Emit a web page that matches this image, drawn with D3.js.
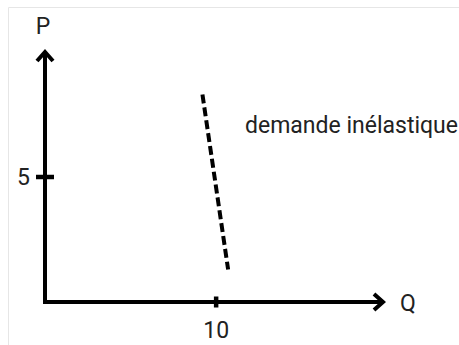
<!DOCTYPE html>
<html>
<head>
<meta charset="utf-8">
<script src="https://cdn.jsdelivr.net/npm/d3@7"></script>
<style>
  html, body { margin: 0; padding: 0; background: #fff; }
  svg { display: block; }
  text { font-family: Roboto, "Noto Sans", sans-serif; fill: #222; }
</style>
</head>
<body>
<div id="chart"></div>
<script>
// ---- data ----
const xDomain = [0, 19.75];
const yDomain = [0, 10];
const xTicks = [10];
const xTickLabels = ["10"];
const yTicks = [5];
const yTickLabels = ["5"];
const demandQ = [9.2, 10.7];
const demandP = [8.3, 1.3];
const axisLabels = ["Q", "P"];
const annotation = "demande inélastique";

// ---- drawing ----
const W = 459, H = 345;
const FS = 23;
const svg = d3.select("#chart").append("svg").attr("width", W).attr("height", H);

// faint frame
svg.append("path")
  .attr("d", "M8.5,345 L8.5,7.5 L459,7.5")
  .attr("fill", "none").attr("stroke", "#e6e6e6").attr("stroke-width", 1);

const x = d3.scaleLinear().domain(xDomain).range([45, 383]);
const y = d3.scaleLinear().domain(yDomain).range([302, 52]);

const g = svg.append("g");
const SW = 4;

// axes lines
g.append("path")
  .attr("d", `M${x(xDomain[0])},${y(yDomain[1]) + 1} L${x(xDomain[0])},${y(0)} L${x(xDomain[1]) - 1},${y(0)}`)
  .attr("fill", "none").attr("stroke", "#000").attr("stroke-width", SW)
  .attr("stroke-linejoin", "miter").attr("stroke-linecap", "butt");

// arrowheads
const ah = 9, aw = 8;
const xt = x(xDomain[1]), yt = y(0);
g.append("path")
  .attr("d", `M${xt - ah},${yt - aw} L${xt},${yt} L${xt - ah},${yt + aw}`)
  .attr("fill", "none").attr("stroke", "#000").attr("stroke-width", SW)
  .attr("stroke-linejoin", "miter");
const xu = x(0), yu = y(yDomain[1]);
g.append("path")
  .attr("d", `M${xu - aw},${yu + ah} L${xu},${yu} L${xu + aw},${yu + ah}`)
  .attr("fill", "none").attr("stroke", "#000").attr("stroke-width", SW)
  .attr("stroke-linejoin", "miter");

// ticks
g.selectAll(".xt").data(xTicks).enter().append("line")
  .attr("x1", d => x(d)).attr("x2", d => x(d))
  .attr("y1", y(0) - 5.5).attr("y2", y(0) + 5.5)
  .attr("stroke", "#000").attr("stroke-width", 4.5);
g.selectAll(".xl").data(xTicks).enter().append("text")
  .attr("x", d => x(d)).attr("y", y(0) + 36)
  .attr("text-anchor", "middle").attr("font-size", FS)
  .text((d, i) => xTickLabels[i]);

g.selectAll(".yt").data(yTicks).enter().append("line")
  .attr("x1", x(0) - 9).attr("x2", x(0) + 9)
  .attr("y1", d => y(d)).attr("y2", d => y(d))
  .attr("stroke", "#000").attr("stroke-width", 4.5);
g.selectAll(".yl").data(yTicks).enter().append("text")
  .attr("x", 30).attr("y", d => y(d) + 8)
  .attr("text-anchor", "end").attr("font-size", FS)
  .text((d, i) => yTickLabels[i]);

// axis labels
g.append("text").attr("x", 400).attr("y", y(0) + 9)
  .attr("font-size", FS).text(axisLabels[0]);
g.append("text").attr("x", x(0) - 2).attr("y", 34)
  .attr("text-anchor", "middle").attr("font-size", FS).text(axisLabels[1]);

// demand line
const line = d3.line().x(d => x(d[0])).y(d => y(d[1]));
g.append("path")
  .datum(d3.zip(demandQ, demandP))
  .attr("d", line)
  .attr("fill", "none").attr("stroke", "#000").attr("stroke-width", 4)
  .attr("stroke-dasharray", "9,4");

// annotation
g.append("text").attr("x", 245).attr("y", 133)
  .attr("font-size", FS).text(annotation);
</script>
</body>
</html>
